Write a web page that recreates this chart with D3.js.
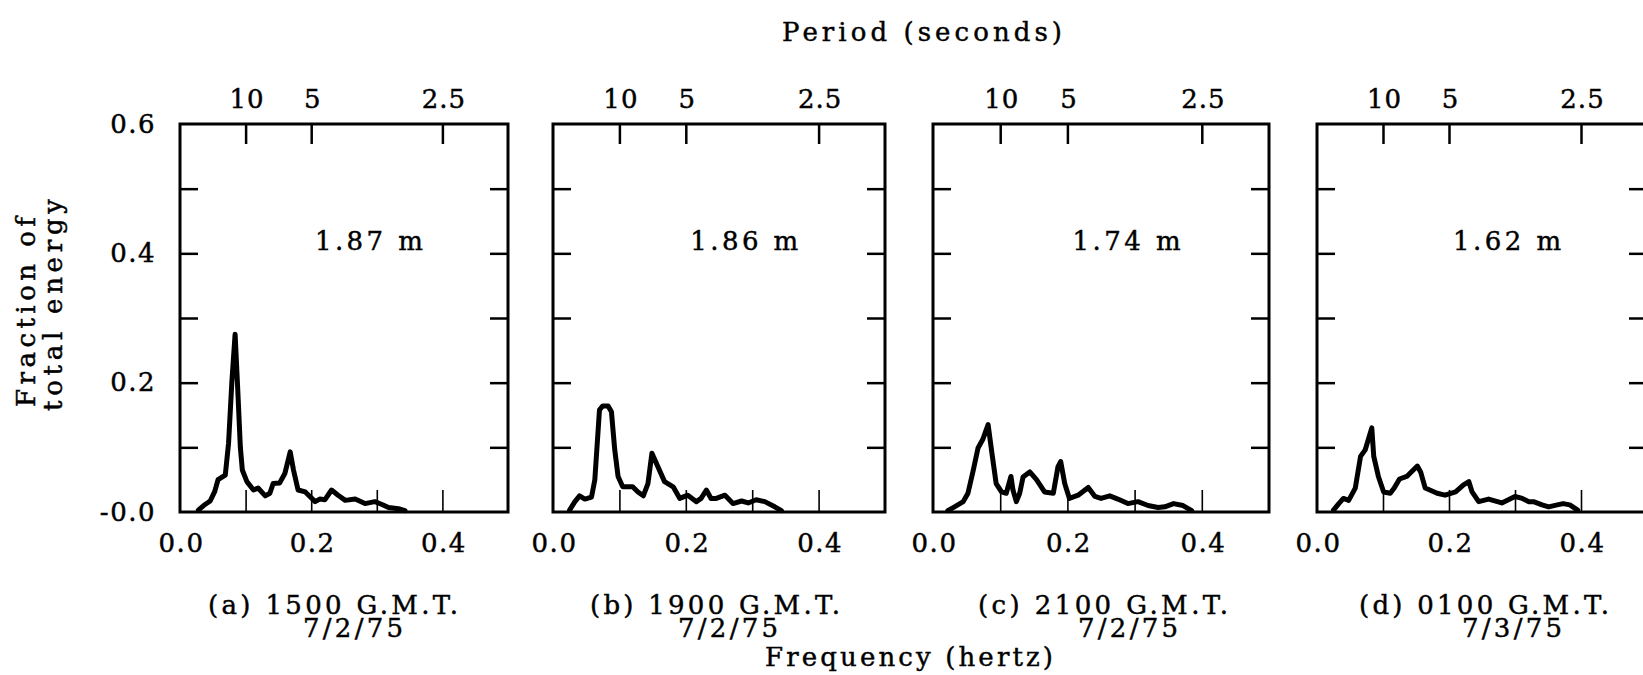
<!DOCTYPE html>
<html>
<head>
<meta charset="utf-8">
<script src="https://cdn.jsdelivr.net/npm/d3@7"></script>
<style>
  html, body { margin: 0; padding: 0; background: #fff; }
  svg { display: block; }
  text { font-family: "DejaVu Serif", "Liberation Serif", serif; fill: #000; stroke: #000; stroke-width: 0.45px; }
</style>
</head>
<body>
<svg id="chart" width="1643" height="675"></svg>
<script>
// ---------------- data ----------------
const panelIds = ["a", "b", "c", "d"];
const panelTitles = ["(a) 1500 G.M.T.", "(b) 1900 G.M.T.", "(c) 2100 G.M.T.", "(d) 0100 G.M.T."];
const panelDates = ["7/2/75", "7/2/75", "7/2/75", "7/3/75"];
const waveHeights = ["1.87 m", "1.86 m", "1.74 m", "1.62 m"];

const freqA = [0.028,0.036,0.046,0.053,0.058,0.069,0.074,0.079,0.084,0.088,0.092,0.095,0.102,0.112,0.119,0.130,0.137,0.142,0.152,0.160,0.168,0.173,0.180,0.191,0.198,0.206,0.213,0.221,0.231,0.241,0.252,0.267,0.282,0.297,0.307,0.318,0.333,0.343];
const energyA = [0.003,0.010,0.017,0.032,0.050,0.057,0.106,0.200,0.275,0.190,0.100,0.065,0.047,0.034,0.037,0.025,0.029,0.044,0.045,0.060,0.093,0.065,0.034,0.031,0.024,0.016,0.020,0.019,0.034,0.026,0.018,0.020,0.013,0.016,0.012,0.007,0.005,0.002];

const freqB = [0.025,0.033,0.040,0.048,0.058,0.063,0.070,0.075,0.083,0.088,0.093,0.098,0.105,0.120,0.128,0.136,0.143,0.149,0.158,0.168,0.181,0.191,0.203,0.216,0.223,0.231,0.238,0.246,0.259,0.271,0.284,0.294,0.306,0.319,0.334,0.344];
const energyB = [0.003,0.016,0.025,0.020,0.023,0.050,0.158,0.164,0.164,0.155,0.096,0.055,0.039,0.039,0.031,0.025,0.044,0.091,0.070,0.047,0.039,0.021,0.026,0.016,0.021,0.034,0.021,0.021,0.026,0.013,0.017,0.014,0.019,0.016,0.008,0.002];

const freqC = [0.022,0.032,0.045,0.052,0.060,0.067,0.074,0.082,0.087,0.094,0.102,0.109,0.116,0.119,0.124,0.129,0.134,0.144,0.154,0.166,0.179,0.186,0.190,0.196,0.203,0.216,0.231,0.241,0.250,0.263,0.275,0.290,0.305,0.320,0.335,0.345,0.358,0.372,0.385];
const energyC = [0.002,0.008,0.016,0.029,0.065,0.099,0.112,0.135,0.096,0.044,0.031,0.029,0.055,0.034,0.016,0.029,0.054,0.062,0.050,0.031,0.029,0.070,0.078,0.044,0.021,0.026,0.038,0.024,0.021,0.025,0.020,0.013,0.016,0.010,0.007,0.008,0.013,0.010,0.002];

const freqD = [0.025,0.033,0.040,0.048,0.058,0.066,0.073,0.083,0.086,0.093,0.101,0.111,0.117,0.125,0.136,0.152,0.157,0.164,0.182,0.194,0.210,0.222,0.230,0.235,0.245,0.260,0.280,0.290,0.300,0.311,0.321,0.328,0.341,0.351,0.364,0.373,0.383,0.395];
const energyD = [0.003,0.013,0.021,0.018,0.037,0.086,0.096,0.130,0.086,0.055,0.031,0.029,0.037,0.051,0.055,0.071,0.062,0.037,0.029,0.026,0.031,0.042,0.047,0.031,0.016,0.020,0.014,0.019,0.024,0.021,0.016,0.016,0.011,0.008,0.011,0.013,0.011,0.003];

const periodTicks = [10, 5, 2.5];          // seconds (top axis)
const freqTickLabels = [0.0, 0.2, 0.4];     // hertz (bottom labels)
const freqTickMarks = [0.1, 0.2, 0.3, 0.4];
const energyTickLabels = [0.0, 0.2, 0.4, 0.6];
const energyTickMarks = [0.1, 0.2, 0.3, 0.4, 0.5];
const heightLabelPos = [0.288, 0.42];       // (freq, energy) where wave height is written

const seriesFreq = [freqA, freqB, freqC, freqD];
const seriesEnergy = [energyA, energyB, energyC, energyD];

// ---------------- layout ----------------
const svg = d3.select("#chart");
const panelLeft = [180, 553, 933, 1317];
const panelWidth = [328, 332, 336, 330];
const captionX = [333, 715, 1103, 1484];
const dateX = [353, 728, 1128, 1512];
const plotTop = 124, plotBottom = 512;
const FS = 26;

function fitText(sel, len) {
  return sel.attr("textLength", len).attr("lengthAdjust", "spacing");
}

fitText(svg.append("text")
  .attr("x", 922).attr("y", 41)
  .attr("text-anchor", "middle")
  .attr("font-size", FS)
  .text("Period (seconds)"), 280);

fitText(svg.append("text")
  .attr("x", 909).attr("y", 666)
  .attr("text-anchor", "middle")
  .attr("font-size", FS)
  .text("Frequency (hertz)"), 288);

fitText(svg.append("text")
  .attr("transform", "translate(35,312) rotate(-90)")
  .attr("text-anchor", "middle")
  .attr("font-size", FS).text("Fraction of"), 190);
fitText(svg.append("text")
  .attr("transform", "translate(62,305) rotate(-90)")
  .attr("text-anchor", "middle")
  .attr("font-size", FS).text("total energy"), 212);

panelIds.forEach((id, i) => {
  const x = d3.scaleLinear().domain([0, 0.5]).range([panelLeft[i], panelLeft[i] + panelWidth[i]]);
  const y = d3.scaleLinear().domain([0, 0.6]).range([plotBottom, plotTop]);
  const g = svg.append("g").attr("class", "panel-" + id);

  // inner ticks, left & right
  g.append("g").attr("transform", `translate(${x(0)},0)`)
    .call(d3.axisLeft(y).tickValues(energyTickMarks).tickSize(-18).tickFormat(""))
    .call(s => s.select(".domain").remove())
    .call(s => s.selectAll("line").attr("stroke", "#000").attr("stroke-width", 2.5));
  g.append("g").attr("transform", `translate(${x(0.5)},0)`)
    .call(d3.axisRight(y).tickValues(energyTickMarks).tickSize(-18).tickFormat(""))
    .call(s => s.select(".domain").remove())
    .call(s => s.selectAll("line").attr("stroke", "#000").attr("stroke-width", 2.5));

  // bottom thin ticks
  g.append("g").attr("transform", `translate(0,${plotBottom})`)
    .call(d3.axisBottom(x).tickValues(freqTickMarks).tickSize(-22).tickFormat(""))
    .call(s => s.select(".domain").remove())
    .call(s => s.selectAll("line").attr("stroke", "#000").attr("stroke-width", 1.6));

  // bottom labels
  g.append("g").attr("transform", `translate(0,${plotBottom})`)
    .call(d3.axisBottom(x).tickValues(freqTickLabels).tickSize(0).tickPadding(22).tickFormat(d3.format(".1f")))
    .call(s => s.select(".domain").remove())
    .call(s => s.selectAll("text").attr("font-size", FS).attr("font-family", null).attr("fill", null).attr("letter-spacing", 1.5).attr("dx", 1));

  // top period ticks
  g.append("g").attr("transform", `translate(0,${plotTop})`)
    .call(d3.axisTop(x).tickValues(periodTicks.map(p => 1 / p)).tickSize(-20).tickPadding(0).tickFormat(""))
    .call(s => s.select(".domain").remove())
    .call(s => s.selectAll("line").attr("stroke", "#000").attr("stroke-width", 2.5));
  g.append("g").attr("transform", `translate(0,${plotTop})`)
    .call(d3.axisTop(x).tickValues(periodTicks.map(p => 1 / p)).tickSize(0).tickPadding(16)
      .tickFormat((d, k) => String(periodTicks[k])))
    .call(s => s.select(".domain").remove())
    .call(s => s.selectAll("text").attr("font-size", FS).attr("font-family", null).attr("fill", null).attr("letter-spacing", 1).attr("dx", 1));

  // y labels (first panel only)
  if (i === 0) {
    g.append("g").attr("transform", `translate(${x(0)},0)`)
      .call(d3.axisLeft(y).tickValues(energyTickLabels).tickSize(0).tickPadding(24)
        .tickFormat(d => d === 0 ? "-0.0" : d3.format(".1f")(d)))
      .call(s => s.select(".domain").remove())
      .call(s => s.selectAll("text").attr("font-size", FS).attr("font-family", null).attr("fill", null).attr("letter-spacing", 1.5));
  }

  // frame
  g.append("rect")
    .attr("x", x(0)).attr("y", y(0.6))
    .attr("width", x(0.5) - x(0)).attr("height", y(0) - y(0.6))
    .attr("fill", "none").attr("stroke", "#000").attr("stroke-width", 3);

  // spectrum curve
  const pts = seriesFreq[i].map((f, k) => [f, seriesEnergy[i][k]]);
  const line = d3.line().x(d => x(d[0])).y(d => y(d[1])).curve(d3.curveLinear);
  g.append("path").datum(pts)
    .attr("d", line)
    .attr("fill", "none").attr("stroke", "#000").attr("stroke-width", 5)
    .attr("stroke-linejoin", "round").attr("stroke-linecap", "round");

  // wave height
  fitText(g.append("text")
    .attr("x", x(heightLabelPos[0])).attr("y", y(heightLabelPos[1]))
    .attr("dy", "0.35em").attr("text-anchor", "middle")
    .attr("font-size", FS)
    .text(waveHeights[i]), 108);

  // captions
  fitText(g.append("text").attr("x", captionX[i]).attr("y", 614).attr("text-anchor", "middle")
    .attr("font-size", FS).text(panelTitles[i]), 250);
  fitText(g.append("text").attr("x", dateX[i]).attr("y", 637).attr("text-anchor", "middle")
    .attr("font-size", FS).text(panelDates[i]), 100);
});
</script>
</body>
</html>
